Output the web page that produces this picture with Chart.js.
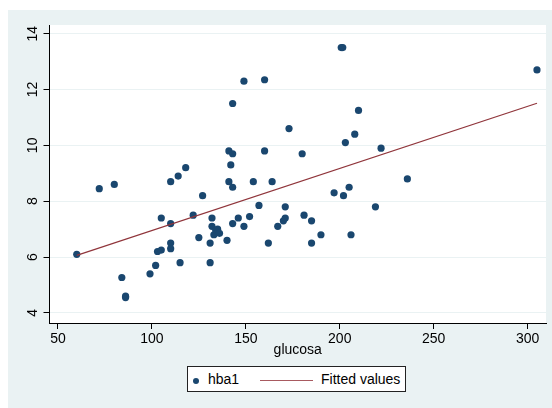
<!DOCTYPE html>
<html>
<head>
<meta charset="utf-8">
<script src="https://cdn.jsdelivr.net/npm/chart.js@4"></script>
<style>
  html, body { margin: 0; padding: 0; background: #fff; }
  #wrap { position: relative; width: 552px; height: 408px; }
  #legend {
    position: absolute; left: 187px; top: 366px; width: 219px; height: 26px;
    border: 1px solid #222; background: #fff; box-sizing: border-box;
    font-family: 'Liberation Sans', Arial, sans-serif; font-size: 14px; color: #000;
  }
  #legend .dot { position: absolute; left: 5px; top: 11px; width: 6px; height: 6px; border-radius: 50%; background: #1A476F; }
  #legend .t1 { position: absolute; left: 20px; top: 4px; }
  #legend .ln { position: absolute; left: 72px; top: 13px; width: 53px; height: 0; border-top: 1.5px solid #A85A60; }
  #legend .t2 { position: absolute; left: 133px; top: 4px; }
</style>
</head>
<body>
<div id="wrap">
  <canvas id="chart" width="552" height="408"></canvas>
  <div id="legend">
    <span class="dot"></span><span class="t1">hba1</span>
    <span class="ln"></span><span class="t2">Fitted values</span>
  </div>
</div>
<script>
const glucosa = [60, 72, 80, 84, 86, 86, 99, 102, 103, 105, 105, 110, 110, 110, 110, 114, 115, 118, 122, 125,
  127, 131, 131, 132, 132, 133, 134, 135, 136, 140, 141, 142, 143, 141, 143, 143, 143, 146, 149, 149,
  152, 154, 157, 160, 160, 162, 164, 167, 170, 171, 171, 173, 180, 181, 185, 185, 190, 197, 200.8, 201.6,
  202, 203, 205, 206, 208, 210, 219, 222, 236, 305];
const hba1 = [6.1, 8.45, 8.6, 5.27, 4.6, 4.55, 5.4, 5.7, 6.2, 6.25, 7.4, 8.7, 7.2, 6.5, 6.3, 8.9, 5.8, 9.2, 7.5, 6.7,
  8.2, 6.5, 5.8, 7.4, 7.1, 6.8, 6.95, 7.0, 6.85, 6.6, 9.8, 9.3, 9.7, 8.7, 8.5, 11.5, 7.2, 7.4, 12.3, 7.1,
  7.45, 8.7, 7.85, 12.35, 9.8, 6.5, 8.7, 7.1, 7.3, 7.4, 7.8, 10.6, 9.7, 7.5, 7.3, 6.5, 6.8, 8.3, 13.5, 13.5,
  8.2, 10.1, 8.5, 6.8, 10.4, 11.25, 7.8, 9.9, 8.8, 12.7];
const fitX = [60, 305];
const fitY = [6.06, 11.51];
const xTicks = [50, 100, 150, 200, 250, 300];
const yTicks = [4, 6, 8, 10, 12, 14];

const FONT = "'Liberation Sans', Arial, sans-serif";
const panelColor = '#EAF2F3';

// gray graph region + white plot region, Stata style
const backdrop = {
  id: 'backdrop',
  beforeDraw(chart) {
    const { ctx, chartArea: a } = chart;
    ctx.save();
    ctx.fillStyle = panelColor;
    ctx.fillRect(8, 10, 544, 398);
    ctx.fillStyle = '#fff';
    ctx.fillRect(a.left, 25, a.right - a.left, a.bottom - 25);
    ctx.restore();
  }
};

// y tick labels rotated like Stata
const yLabels = {
  id: 'yLabels',
  afterDraw(chart) {
    const { ctx } = chart;
    const ys = chart.scales.y;
    ctx.save();
    ctx.font = '14px ' + FONT;
    ctx.fillStyle = '#000';
    ctx.textAlign = 'center';
    ctx.textBaseline = 'middle';
    yTicks.forEach(v => {
      ctx.save();
      ctx.translate(33, ys.getPixelForValue(v));
      ctx.rotate(-Math.PI / 2);
      ctx.fillText(String(v), 0, 0);
      ctx.restore();
    });
    ctx.restore();
  }
};

new Chart(document.getElementById('chart'), {
  data: {
    datasets: [{
      type: 'scatter',
      label: 'hba1',
      data: glucosa.map((x, i) => ({ x, y: hba1[i] })),
      backgroundColor: '#1A476F',
      borderWidth: 0,
      pointRadius: 3.6,
      order: 2
    }, {
      type: 'line',
      label: 'Fitted values',
      data: fitX.map((x, i) => ({ x, y: fitY[i] })),
      borderColor: '#90353B',
      borderWidth: 1.2,
      pointRadius: 0,
      fill: false,
      order: 1
    }]
  },
  options: {
    responsive: false,
    animation: false,
    layout: { padding: { top: 25, right: 6, left: 0, bottom: 49.5 } },
    plugins: { legend: { display: false }, tooltip: { enabled: false } },
    scales: {
      x: {
        type: 'linear',
        min: 45.5,
        max: 309.8,
        afterBuildTicks: s => { s.ticks = xTicks.map(v => ({ value: v })); },
        afterFit: s => { s.height = 35.5; },
        grid: { drawOnChartArea: false, drawTicks: true, tickLength: 6, tickColor: '#000' },
        border: { color: '#000', width: 1 },
        ticks: { color: '#000', padding: 2, maxRotation: 0, font: { family: FONT, size: 14 } },
        title: { display: true, text: 'glucosa', color: '#000', padding: 0, font: { family: FONT, size: 14 } }
      },
      y: {
        type: 'linear',
        min: 3.64,
        max: 14.31,
        afterBuildTicks: s => { s.ticks = yTicks.map(v => ({ value: v })); },
        afterFit: s => { s.width = 49.5; },
        grid: { color: panelColor, lineWidth: 1, drawTicks: true, tickLength: 6, tickColor: '#000' },
        border: { color: '#000', width: 1 },
        ticks: { display: false }
      }
    }
  },
  plugins: [backdrop, yLabels]
});
</script>
</body>
</html>
